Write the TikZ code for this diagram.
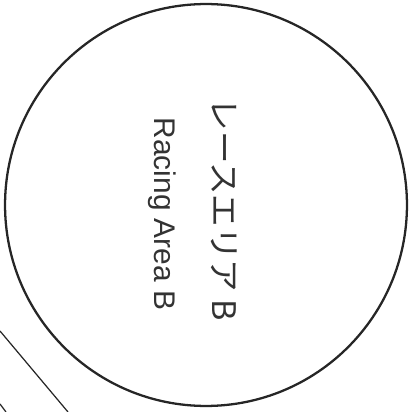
\documentclass[tikz,border=0pt]{standalone}
\usepackage{fontspec}
\setmainfont{Liberation Sans}
\newfontfamily\jpfont{Noto Sans CJK JP}
\usepackage{tikz}
\usetikzlibrary{positioning}
\definecolor{ink}{HTML}{262626}
\definecolor{textgray}{HTML}{333333}

\begin{document}
\begin{tikzpicture}[
      x=0.02cm, y=-0.02cm,
      area/.style={circle, draw=ink, line width=1.3pt, minimum size=8.04cm, inner sep=0pt},
      label/.style={rotate=-90, inner sep=0pt, text=textgray, font=\fontsize{17}{20}\selectfont},
      edge/.style={draw=ink, line width=0.7pt}
    ]
      \useasboundingbox (0,0) rectangle (413,412);
      \node[area] (racing) at (206,205) {};
      \node[label, font=\jpfont\fontsize{18.5}{20}\selectfont] (jp) at (224,210) {レースエリア B};
      \node[label] (en) at (162,214) {Racing Area B};
      % pieces of the neighbouring course, cut off at the corner
      \coordinate (outA) at (0,331);
      \coordinate (outB) at (68,412);
      \coordinate (outC) at (0,404);
      \coordinate (outD) at (6,412);
      \draw[edge] (outA) -- (outB);
      \draw[edge] (outC) -- (outD);
    \end{tikzpicture}
\end{document}
